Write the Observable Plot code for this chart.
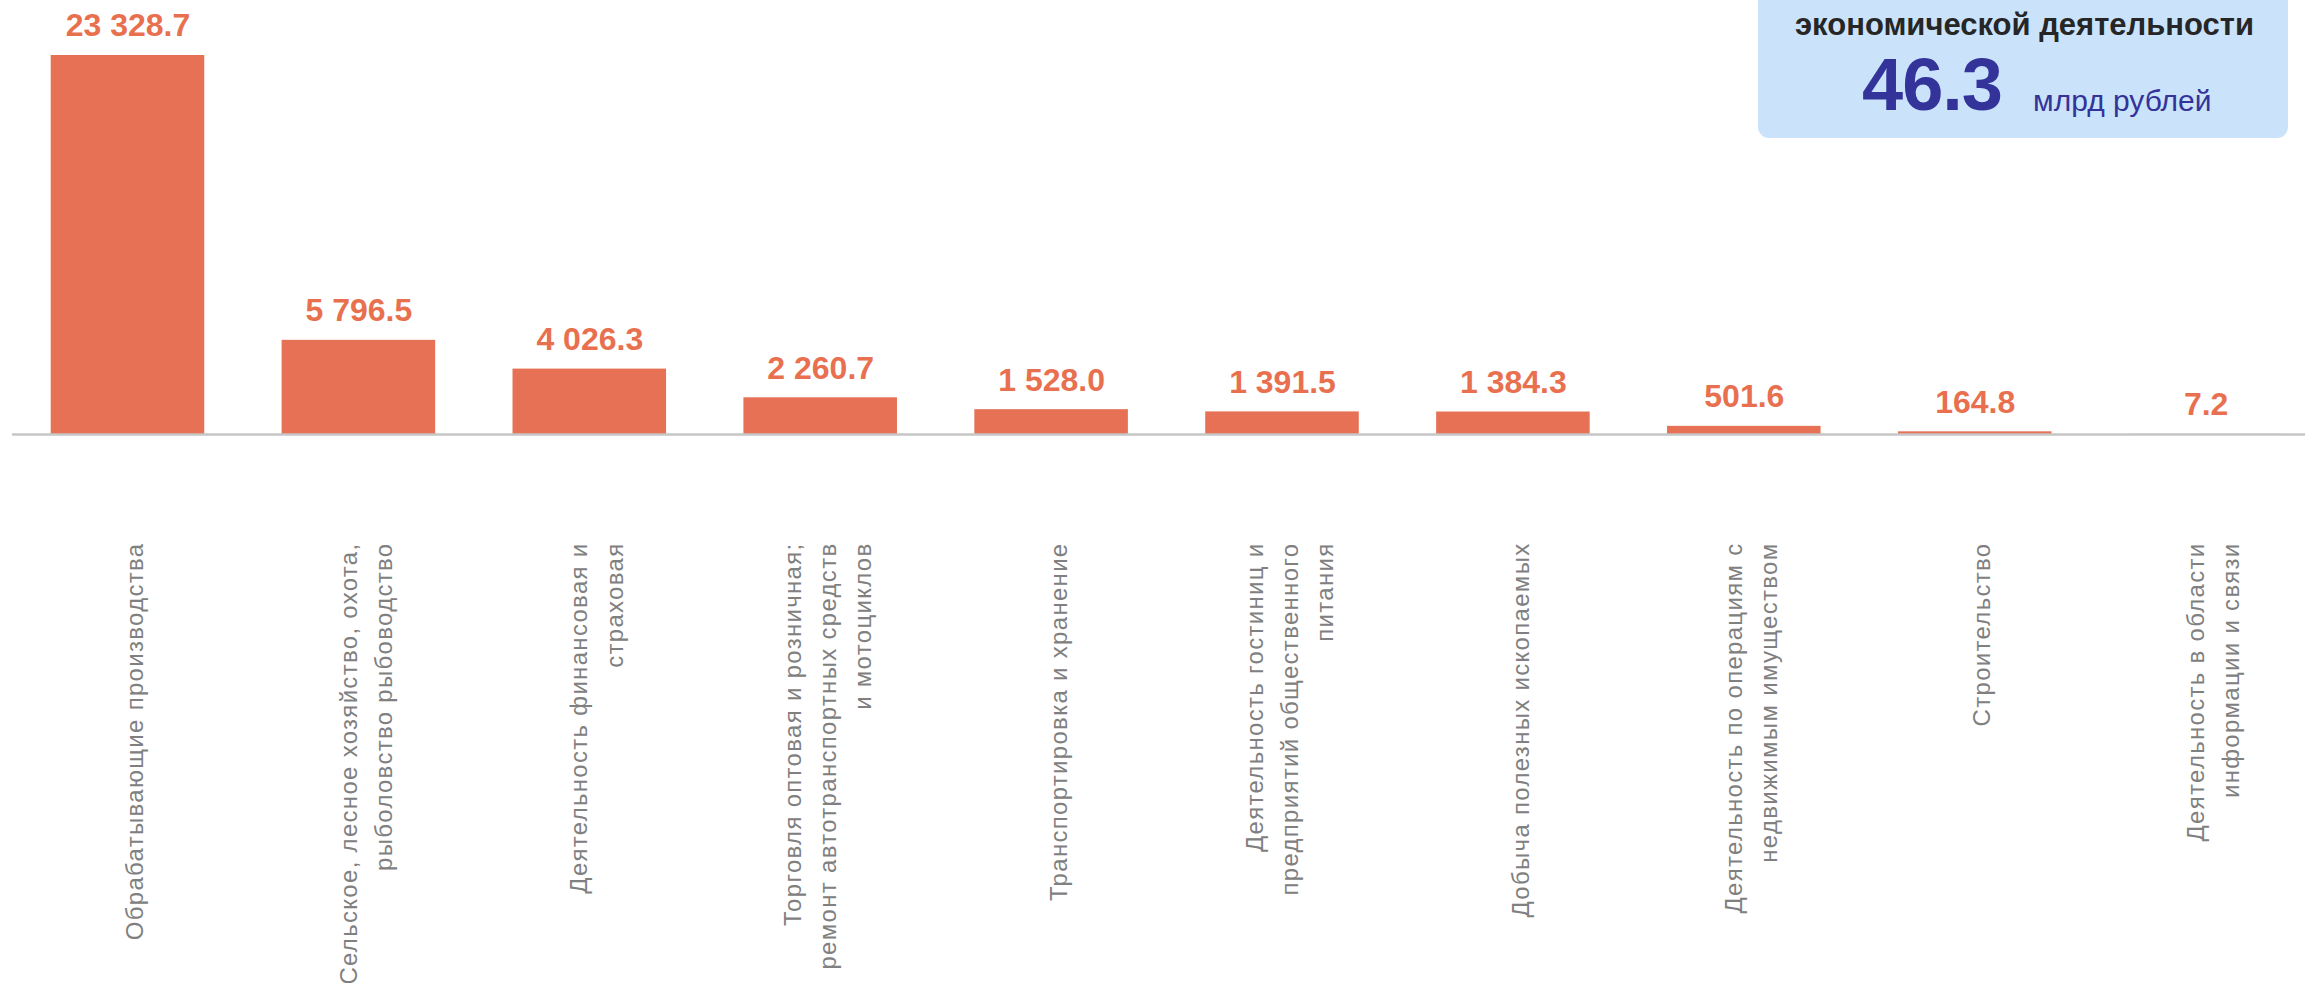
<!DOCTYPE html>
<html lang="ru">
<head>
<meta charset="utf-8">
<script src="https://cdn.jsdelivr.net/npm/d3@7"></script>
<script src="https://cdn.jsdelivr.net/npm/@observablehq/plot@0.6"></script>
<style>
  html, body { margin: 0; padding: 0; background: #ffffff; overflow: hidden; }
  #wrap { position: relative; width: 2305px; height: 983px; font-family: "Liberation Sans", Arial, sans-serif; }
  #chart svg { display: block; }
  #box {
    position: absolute; left: 1758px; top: -60px; width: 530px; height: 198px;
    background: #cae3fb; border-radius: 11px;
  }
  .abs { position: absolute; white-space: nowrap; line-height: 1; }
  #title { left: 1795px; top: 9px; font-size: 31px; font-weight: bold; color: #262626; }
  #big { left: 1862px; top: 48px; font-size: 74px; font-weight: bold; color: #333399; letter-spacing: -1px; }
  #unit { left: 2033px; top: 86px; font-size: 30px; color: #333399; }
</style>
</head>
<body>
<div id="wrap">
  <div id="chart"></div>
  <div id="box"></div>
  <div id="title" class="abs">экономической деятельности</div>
  <div id="big" class="abs">46.3</div>
  <div id="unit" class="abs">млрд рублей</div>
</div>
<script>
const categories = [
  "Обрабатывающие производства",
  "Сельское, лесное хозяйство, охота,\nрыболовство рыбоводство",
  "Деятельность финансовая и\nстраховая",
  "Торговля оптовая и розничная;\nремонт автотранспортных средств\nи мотоциклов",
  "Транспортировка и хранение",
  "Деятельность гостиниц и\nпредприятий общественного\nпитания",
  "Добыча полезных ископаемых",
  "Деятельность по операциям с\nнедвижимым имуществом",
  "Строительство",
  "Деятельность в области\nинформации и связи"
];
const values = [23328.7, 5796.5, 4026.3, 2260.7, 1528.0, 1391.5, 1384.3, 501.6, 164.8, 7.2];

const data = categories.map((c, i) => ({category: c, value: values[i]}));
const fmt = v => d3.format(",.1f")(v).replace(/,/g, " ");

const barColor = "#e67154";
const labelColor = "#e8704f";

const plot = Plot.plot({
  width: 2305,
  height: 983,
  marginTop: 0,
  marginBottom: 549,
  marginLeft: 12,
  marginRight: 0,
  style: {fontFamily: "'Liberation Sans', Arial, sans-serif", background: "#ffffff"},
  x: {domain: categories, range: [50.7, 2282.4], paddingInner: 0.335, paddingOuter: 0, round: false, axis: null},
  y: {domain: [0, 26714], axis: null},
  marks: [
    Plot.barY(data, {x: "category", y: "value", fill: barColor}),
    Plot.ruleY([0], {stroke: "#c6c6c6", strokeWidth: 2.5}),
    Plot.text(data, {
      x: "category", y: "value", text: d => fmt(d.value),
      dy: -19, lineAnchor: "bottom", fill: labelColor,
      fontSize: 32, fontWeight: "bold"
    }),
    Plot.text(data, {
      x: "category", text: "category", frameAnchor: "bottom",
      dy: 108, dx: 4, rotate: -90, textAnchor: "end", lineAnchor: "middle",
      lineHeight: 1.46, fontSize: 24, fill: "#808080"
    })
  ]
});
// letter-spacing for the rotated category labels (last text mark)
const textGroups = plot.querySelectorAll('g[aria-label="text"]');
if (textGroups.length) {
  textGroups[textGroups.length - 1].querySelectorAll("text").forEach(t => {
    t.style.letterSpacing = "1.3px";
  });
}
document.getElementById("chart").appendChild(plot);
</script>
</body>
</html>
